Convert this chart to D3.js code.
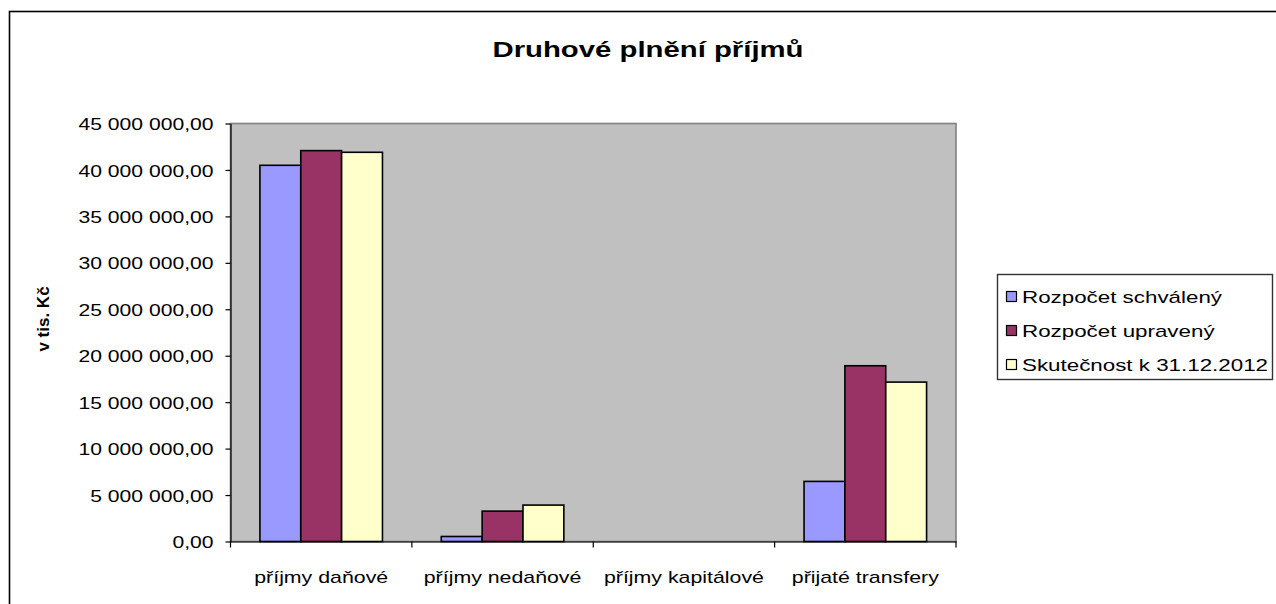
<!DOCTYPE html>
<html>
<head>
<meta charset="utf-8">
<script src="https://cdn.jsdelivr.net/npm/d3@7"></script>
<style>
  html, body { margin: 0; padding: 0; background: #fff; }
  svg { display: block; }
  text { font-family: "Liberation Sans", Arial, sans-serif; fill: #000; }
</style>
</head>
<body>
<svg id="chart" width="1276" height="604"></svg>
<script>
const title = "Druhové plnění příjmů";
const yTitle = "v tis. Kč";
const categories = ["příjmy daňové", "příjmy nedaňové", "příjmy kapitálové", "přijaté transfery"];
const seriesNames = ["Rozpočet schválený", "Rozpočet upravený", "Skutečnost k 31.12.2012"];
const seriesColors = ["#9999FF", "#993366", "#FFFFCC"];
const rozpocetSchvaleny = [40500000, 540000, 0, 6470000];
const rozpocetUpraveny = [42080000, 3270000, 0, 18920000];
const skutecnost = [41900000, 3920000, 0, 17160000];
const yTicks = [0, 5000000, 10000000, 15000000, 20000000, 25000000, 30000000, 35000000, 40000000, 45000000];

const seriesValues = [rozpocetSchvaleny, rozpocetUpraveny, skutecnost];
const svg = d3.select("#chart");

// stretch every text of a selection by the factor that brings the reference node to refWidth
function stretchGroup(sel, refNode, refWidth) {
  const k = refWidth / refNode.getComputedTextLength();
  sel.each(function () {
    const w = this.getComputedTextLength();
    if (w > 0) {
      this.setAttribute("textLength", (w * k).toFixed(1));
      this.setAttribute("lengthAdjust", "spacingAndGlyphs");
    }
  });
}

// outer chart border
svg.append("rect").attr("x", 9.5).attr("y", 11.5).attr("width", 1300).attr("height", 700)
  .attr("fill", "#fff").attr("stroke", "#000").attr("stroke-width", 1.6);

const plot = { left: 230.5, right: 956, top: 123.5, bottom: 541.5 };

const y = d3.scaleLinear().domain([0, 45000000]).range([plot.bottom, plot.top]);
const x0 = d3.scaleBand().domain(categories).range([plot.left, plot.right]).paddingInner(0).paddingOuter(0);
const x1 = d3.scaleBand().domain(seriesNames).range([0, x0.bandwidth()]).paddingInner(0).paddingOuter(0.72);

// plot area
svg.append("rect").attr("x", plot.left).attr("y", plot.top)
  .attr("width", plot.right - plot.left).attr("height", plot.bottom - plot.top)
  .attr("fill", "#C0C0C0").attr("stroke", "#808080").attr("stroke-width", 1.6);

// bars
const groups = svg.append("g").selectAll("g").data(categories).join("g")
  .attr("transform", d => `translate(${x0(d)},0)`);
groups.selectAll("rect")
  .data((c, i) => seriesNames.map((s, j) => ({ s, v: seriesValues[j][i], color: seriesColors[j] })))
  .join("rect")
  .filter(d => d.v > 0)
  .attr("x", d => x1(d.s))
  .attr("y", d => y(d.v))
  .attr("width", x1.bandwidth())
  .attr("height", d => y(0) - y(d.v))
  .attr("fill", d => d.color)
  .attr("stroke", "#000").attr("stroke-width", 1.6);

// y axis
const fmt = v => d3.format(",.2f")(v).replace(/,/g, " ").replace(".", ",");
const yAxis = d3.axisLeft(y).tickValues(yTicks).tickFormat(fmt).tickSizeInner(5).tickSizeOuter(0).tickPadding(12);
const gy = svg.append("g").attr("transform", `translate(${plot.left},0)`).call(yAxis);
gy.select(".domain").attr("stroke", "#000").attr("stroke-width", 1.2);
gy.selectAll(".tick line").attr("stroke", "#000").attr("stroke-width", 1.2);
const yLabels = gy.selectAll(".tick text").attr("font-size", 17).attr("font-family", "Liberation Sans, Arial, sans-serif")
  .attr("fill", "#000").attr("dy", "0.36em");
stretchGroup(yLabels, yLabels.nodes()[yLabels.size() - 1], 135);

// x axis
const xAxis = d3.axisBottom(x0).tickSize(0).tickPadding(0);
const gx = svg.append("g").attr("transform", `translate(0,${plot.bottom})`).call(xAxis);
gx.select(".domain").attr("stroke", "#000").attr("stroke-width", 1.2);
const xLabels = gx.selectAll(".tick text").attr("font-size", 17).attr("font-family", "Liberation Sans, Arial, sans-serif")
  .attr("fill", "#000").attr("y", 41).attr("dy", 0);
stretchGroup(xLabels, xLabels.nodes()[2], 160);
const boundaries = categories.map(c => x0(c)).concat([x0(categories[categories.length - 1]) + x0.bandwidth()]);
gx.selectAll("line.bound").data(boundaries).join("line").attr("class", "bound")
  .attr("x1", d => d).attr("x2", d => d).attr("y1", 0).attr("y2", 6)
  .attr("stroke", "#000").attr("stroke-width", 1.2);

// title
const t = svg.append("text").attr("x", 648).attr("y", 57).attr("text-anchor", "middle")
  .attr("font-size", 22).attr("font-weight", "bold").text(title);
stretchGroup(t, t.node(), 311);

// y title
svg.append("text").attr("transform", "translate(49,319) rotate(-90)").attr("text-anchor", "middle")
  .attr("font-size", 17).attr("font-weight", "bold").text(yTitle);

// legend
const lg = svg.append("g");
lg.append("rect").attr("x", 997.5).attr("y", 274.5).attr("width", 275).attr("height", 105)
  .attr("fill", "#fff").attr("stroke", "#333").attr("stroke-width", 1.4);
const rows = [297, 331, 365];
const legendTexts = [];
seriesNames.forEach((s, i) => {
  lg.append("rect").attr("x", 1006.5).attr("y", rows[i] - 5.5).attr("width", 10).attr("height", 10)
    .attr("fill", seriesColors[i]).attr("stroke", "#000").attr("stroke-width", 1.2);
  legendTexts.push(lg.append("text").attr("x", 1022).attr("y", rows[i] + 6).attr("font-size", 17).text(s).node());
});
stretchGroup(d3.selectAll(legendTexts), legendTexts[2], 246);
</script>
</body>
</html>
